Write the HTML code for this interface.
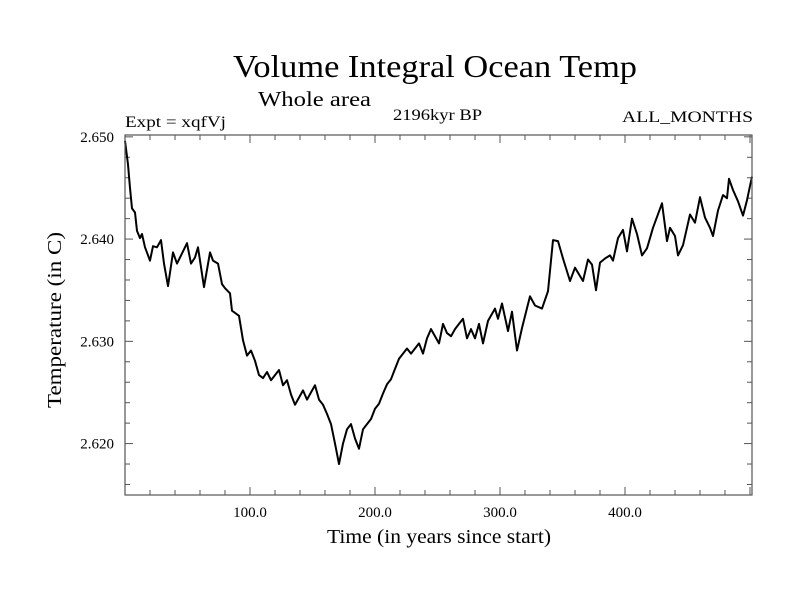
<!DOCTYPE html>
<html><head><meta charset="utf-8"><style>
html,body{margin:0;padding:0;background:#fff;}
svg{display:block;font-family:"Liberation Serif",serif;}
</style></head><body>
<svg id="chart" width="800" height="600" viewBox="0 0 800 600" xmlns="http://www.w3.org/2000/svg">
<rect x="0" y="0" width="800" height="600" fill="#fff"/>
<text x="435" y="77" font-size="32" text-anchor="middle" textLength="404" lengthAdjust="spacingAndGlyphs">Volume Integral Ocean Temp</text>
<text x="258" y="106" font-size="21" textLength="113" lengthAdjust="spacingAndGlyphs">Whole area</text>
<text x="125" y="127" font-size="16" textLength="101" lengthAdjust="spacingAndGlyphs">Expt = xqfVj</text>
<text x="393" y="120" font-size="16" textLength="89" lengthAdjust="spacingAndGlyphs">2196kyr BP</text>
<text x="622" y="122" font-size="16" textLength="131" lengthAdjust="spacingAndGlyphs">ALL_MONTHS</text>
<text x="327" y="543" font-size="20" textLength="224" lengthAdjust="spacingAndGlyphs">Time (in years since start)</text>
<text transform="translate(61,408) rotate(-90)" font-size="20" textLength="176" lengthAdjust="spacingAndGlyphs">Temperature (in C)</text>
<g id="ticks"></g>
<g id="labels" font-size="15"></g>
<path id="series" fill="none" stroke="#000" stroke-width="2" stroke-linejoin="round"/>
<rect x="125" y="135" width="627" height="360" fill="none" stroke="#555" stroke-width="1.2"/>
</svg>
<script>
const years = [0,2.4,4,5.6,8,9.6,12,13.6,16,20,22.4,25.6,28.8,31.2,34.4,38.4,41.6,44,49.6,52.8,56,58.4,63.2,68,70.4,74.4,77.6,80,84,85.6,91.2,94.4,97.6,100.8,104,107.2,110.4,113.6,116.8,120,123.2,126.4,129.6,132.8,136,139.2,142.4,145.6,148.8,152,155.2,158.4,161.6,164.8,168,171.2,174.4,177.6,180.8,184,187.2,190.4,193.6,196.8,200,203.2,206.4,209.6,212.8,216,219.2,222.4,225.6,228.8,232,235.2,238.4,241.6,244.8,248,251.2,254.4,257.6,260.8,264,267.2,270.4,273.6,276.8,280,283.2,286.4,290.4,296,298.4,301.6,306.4,309.6,313.6,317.6,324,328,333.6,338.4,342.4,346.4,350.4,356,360,366.4,370.4,373.6,376.8,380,384,388,390.4,394.4,398.4,401.6,405.6,409.6,413.6,417.6,422.4,429.6,433.6,436,440,442.4,446.4,452,456,460,464,468,470.4,474.4,478.4,481.6,483.2,486.4,490.4,494.4,497.6,500,501.6];
const temps = [2.6496,2.6473,2.6450,2.6430,2.6426,2.6408,2.6401,2.6405,2.6392,2.6379,2.6393,2.6392,2.6399,2.6376,2.6354,2.6387,2.6376,2.6382,2.6396,2.6376,2.6382,2.6392,2.6353,2.6387,2.6379,2.6376,2.6356,2.6352,2.6347,2.6330,2.6325,2.6301,2.6286,2.6291,2.6281,2.6267,2.6264,2.6270,2.6262,2.6267,2.6272,2.6257,2.6262,2.6248,2.6238,2.6245,2.6252,2.6243,2.6250,2.6257,2.6243,2.6238,2.6229,2.6219,2.6200,2.6180,2.6200,2.6214,2.6219,2.6205,2.6195,2.6214,2.6219,2.6224,2.6234,2.6239,2.6249,2.6258,2.6263,2.6273,2.6283,2.6288,2.6293,2.6288,2.6293,2.6298,2.6288,2.6303,2.6312,2.6305,2.6298,2.6317,2.6308,2.6305,2.6312,2.6317,2.6322,2.6303,2.6312,2.6303,2.6317,2.6298,2.6320,2.6332,2.6322,2.6337,2.6310,2.6329,2.6291,2.6313,2.6344,2.6335,2.6332,2.6349,2.6399,2.6398,2.6381,2.6359,2.6372,2.6359,2.6380,2.6375,2.6350,2.6377,2.6381,2.6384,2.6379,2.6401,2.6409,2.6388,2.6420,2.6405,2.6384,2.6391,2.6411,2.6435,2.6398,2.6411,2.6403,2.6384,2.6394,2.6424,2.6416,2.6441,2.6421,2.6411,2.6403,2.6428,2.6443,2.6440,2.6459,2.6448,2.6437,2.6423,2.6438,2.6452,2.6461];
const xTickLabels = ["100.0","200.0","300.0","400.0"];
const xTickValues = [100,200,300,400];
const yTickLabels = ["2.620","2.630","2.640","2.650"];
const yTickValues = [2.620,2.630,2.640,2.650];

const L=125,R=752,T=135,B=495, XMIN=0,XMAX=501.6, YMIN=2.61497,YMAX=2.65018;
const sx=v=>L+(v-XMIN)/(XMAX-XMIN)*(R-L);
const sy=v=>B-(v-YMIN)/(YMAX-YMIN)*(B-T);
const NS="http://www.w3.org/2000/svg";
let d="";
for(let i=0;i<years.length;i++){d+=(i?"L":"M")+sx(years[i]).toFixed(1)+" "+sy(temps[i]).toFixed(1);}
document.getElementById('series').setAttribute('d',d);

const tg=document.getElementById('ticks');
function line(x1,y1,x2,y2,name){
  const l=document.createElementNS(NS,'line');
  l.setAttribute('x1',x1);l.setAttribute('y1',y1);l.setAttribute('x2',x2);l.setAttribute('y2',y2);
  l.setAttribute('stroke','#555');l.setAttribute('stroke-width','1');
  
  
  tg.appendChild(l);
}
for(let v=20;v<XMAX;v+=20){
  const major=(v%100===0), len=major?8:5, x=sx(v);
  line(x,B,x,B-len,'x-tick');line(x,T,x,T+len,'x-tick-top');
}
for(let k=0;k<=17;k++){
  const v=2.616+k*0.002; if(v>YMAX) break;
  const major=Math.abs((v*1000)%10)<0.01||Math.abs((v*1000)%10-10)<0.01;
  const len=major?8:5, y=sy(v);
  line(L,y,L+len,y,'y-tick');line(R,y,R-len,y,'y-tick-right');
}
const lg=document.getElementById('labels');
xTickLabels.forEach((t,i)=>{
  const e=document.createElementNS(NS,'text');
  e.setAttribute('x',sx(xTickValues[i]));e.setAttribute('y',517);e.setAttribute('text-anchor','middle');
  
  
  e.textContent=t;lg.appendChild(e);
});
yTickLabels.forEach((t,i)=>{
  const e=document.createElementNS(NS,'text');
  e.setAttribute('x',114);e.setAttribute('y',sy(yTickValues[i])+5);e.setAttribute('text-anchor','end');
  
  
  e.textContent=t;lg.appendChild(e);
});
</script>
</body></html>
